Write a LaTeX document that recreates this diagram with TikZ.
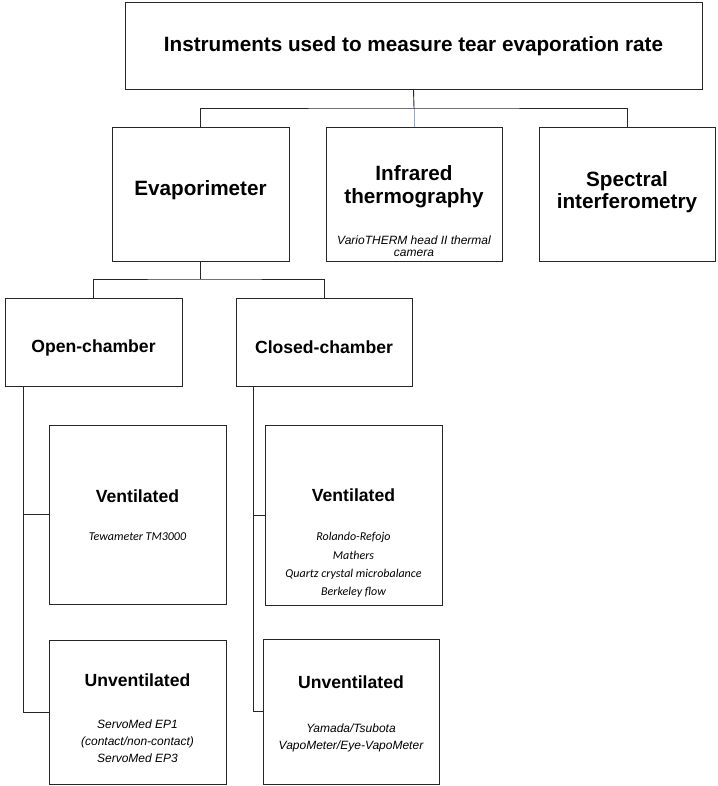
\documentclass[tikz,border=0pt]{standalone}
\usepackage{fontspec}
\setmainfont{Liberation Sans}
\newfontfamily\calibrifont{Carlito}
\usepackage{xcolor}
\usepackage{tikz}

\definecolor{linkblue}{RGB}{140,170,210}
\tikzset{
  box/.style={draw=black!85, line width=0.9pt, inner sep=0pt},
  link/.style={draw=black!85, line width=0.9pt},
  head/.style={anchor=base, inner sep=0pt, font=\fontsize{20.7}{23}\selectfont\bfseries},
  subhead/.style={anchor=base, inner sep=0pt, font=\fontsize{17.6}{20}\selectfont\bfseries},
  note/.style={anchor=base, inner sep=0pt, font=\fontsize{12}{14}\selectfont\itshape},
  cnote/.style={anchor=base, inner sep=0pt, font=\fontsize{12}{14}\selectfont\calibrifont\itshape},
}

\begin{document}
\begin{tikzpicture}[x=1pt, y=-1pt]
\useasboundingbox (0,0) rectangle (717,786);

% Top box
\node[box, minimum width=577pt, minimum height=87pt] (title) at (413.5,45.5) {};
\node[head] (titletxt) at (413.5,52) {Instruments used to measure tear evaporation rate};

% Second level
\node[box, minimum width=177pt, minimum height=134pt] (evap) at (200.5,194) {};
\node[box, minimum width=176pt, minimum height=134pt] (infra) at (414,194) {};
\node[box, minimum width=176pt, minimum height=134pt] (spec) at (627,194) {};
\node[head] (evaptxt) at (200.5,196) {Evaporimeter};
\node[head] (infratxt) at (414,181) {Infrared};
\node[head] (infratxtb) at (414,204) {thermography};
\node[note] (vario) at (414,244) {VarioTHERM head II thermal};
\node[note] (variob) at (414,256) {camera};
\node[head] (spectxt) at (627,187) {Spectral};
\node[head] (spectxtb) at (627,209) {interferometry};

% Top connectors
\coordinate (bus) at (414,108);
\draw[link] (title.south) -- (bus);
\draw[line width=0.9pt, linkblue] (bus) -- (infra.north);
\draw[link] (evap.north) |- (bus) -| (spec.north);

% Chambers
\node[box, minimum width=177pt, minimum height=88pt] (open) at (93.5,342) {};
\node[box, minimum width=176pt, minimum height=88pt] (closed) at (324,342) {};
\node[subhead] (opentxt) at (93.5,352) {Open-chamber};
\node[subhead] (closedtxt) at (324,353) {Closed-chamber};

\coordinate (ebus) at (200.5,279);
\draw[link] (evap.south) -- (ebus);
\draw[link] (open.north) |- (ebus) -| (closed.north);

% Open-chamber branch
\node[box, minimum width=177pt, minimum height=179pt] (ovent) at (137.5,514.5) {};
\node[box, minimum width=177pt, minimum height=144pt] (ounv) at (137.5,712) {};
\node[subhead] (oventtxt) at (137.5,502) {Ventilated};
\node[cnote] (tewa) at (137.5,540) {Tewameter TM3000};
\node[subhead] (ounvtxt) at (137.5,686) {Unventilated};
\node[note] (servoa) at (137.5,728) {ServoMed EP1};
\node[note] (servob) at (137.5,745) {(contact/non-contact)};
\node[note] (servoc) at (137.5,762) {ServoMed EP3};

\coordinate (otrunk) at (23,386);
\draw[link] (otrunk) |- (ovent.west);
\draw[link] (otrunk) |- (ounv.west);

% Closed-chamber branch
\node[box, minimum width=177pt, minimum height=180pt] (cvent) at (353.5,515) {};
\node[box, minimum width=176pt, minimum height=145pt] (cunv) at (351,711.5) {};
\node[subhead] (cventtxt) at (353.5,501) {Ventilated};
\node[cnote] (rolando) at (353.5,540) {Rolando-Refojo};
\node[cnote] (mathers) at (353.5,559) {Mathers};
\node[cnote] (quartz) at (353.5,577) {Quartz crystal microbalance};
\node[cnote] (berkeley) at (353.5,595) {Berkeley flow};
\node[subhead] (cunvtxt) at (351,688) {Unventilated};
\node[note] (yamada) at (351,732) {Yamada/Tsubota};
\node[note] (vapo) at (351,749) {VapoMeter/Eye-VapoMeter};

\coordinate (ctrunk) at (253,386);
\draw[link] (ctrunk) |- (cvent.west);
\draw[link] (ctrunk) |- (cunv.west);
\end{tikzpicture}
\end{document}
